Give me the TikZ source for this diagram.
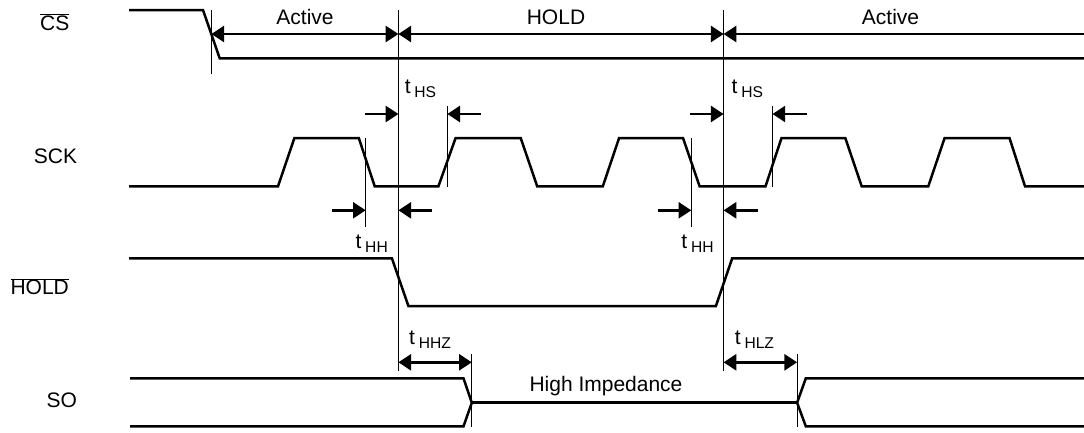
\documentclass[tikz,border=0pt]{standalone}
\usepackage{fontspec}
\setmainfont{Liberation Sans}
\usetikzlibrary{arrows.meta}
\newcommand\ovl[1]{\leavevmode\vbox{\hrule height 0.9pt\kern 0.6pt\hbox{#1}}}
\newcommand\tsub[1]{t\kern 3.8pt\raisebox{-4.4pt}{\fontsize{15.6}{16}\selectfont #1}}
\tikzset{
  signal/.style={line width=2.5pt,black,line join=miter},
  guide/.style={line width=1pt,black},
  dim/.style={line width=2.5pt,black},
  tiphead/.tip={Triangle[length=12.7pt,width=16pt]},
  dimend/.style={dim,{tiphead}-},
  dimboth/.style={dim,{tiphead}-{tiphead}},
  txt/.style={inner sep=0pt,anchor=base,font=\fontsize{21}{21}\selectfont},
  lbl/.style={inner sep=0pt,anchor=base west,font=\fontsize{21}{21}\selectfont},
}
\begin{document}
\begin{tikzpicture}[x=1pt,y=-1pt]
\useasboundingbox (0,0) rectangle (1084,432);
% guides
\coordinate (gCS) at (211.4,10);
\coordinate (gA) at (398.4,10);
\coordinate (gB) at (723.6,10);
\coordinate (gH1) at (447.3,106);
\coordinate (gH2) at (772.5,106);
\coordinate (gS1) at (365.7,138);
\coordinate (gS2) at (691.3,138);
\coordinate (gZ1) at (471.8,354);
\coordinate (gZ2) at (797.1,354);
\coordinate (r1) at (0,34);
\coordinate (r2) at (0,114);
\coordinate (r3) at (0,210.3);
\coordinate (r4) at (0,362.3);
\coordinate (edge) at (1084,34);
\draw[guide] (gCS) -- (gCS |- 0,74);
\draw[guide] (gA) -- (gA |- 0,371);
\draw[guide] (gB) -- (gB |- 0,371);
\draw[guide] (gH1) -- (gH1 |- 0,186.5);
\draw[guide] (gH2) -- (gH2 |- 0,186.5);
\draw[guide] (gS1) -- (gS1 |- 0,226.7);
\draw[guide] (gS2) -- (gS2 |- 0,226.7);
\draw[guide] (gZ1) -- (gZ1 |- 0,426.7);
\draw[guide] (gZ2) -- (gZ2 |- 0,426.7);
% signals
\draw[signal] (129,10) -- (203,10) -- (219.7,58.3) -- (1084,58.3);
\draw[signal] (129,186.3) -- (278,186.3) -- (294.4,138) -- (358.8,138) -- (374.7,186.3)
  -- (438.4,186.3) -- (455.6,138) -- (520.7,138) -- (537.2,186.3)
  -- (602.8,186.3) -- (619.1,138) -- (683,138) -- (699.6,186.3)
  -- (765.5,186.3) -- (781.5,138) -- (845.3,138) -- (861.7,186.3)
  -- (928.3,186.3) -- (944.6,138) -- (1009.5,138) -- (1025,186.3) -- (1084,186.3);
\draw[signal] (129,258.3) -- (391.9,258.3) -- (408.4,306) -- (715.9,306) -- (732.2,258.3) -- (1084,258.3);
\draw[signal] (130.2,378.3) -- (463.5,378.3) -- (471.8,402.7) -- (463.5,426.3) -- (130.2,426.3);
\draw[signal] (471.8,402.7) -- (797.1,402.7);
\draw[signal] (1084,378.3) -- (805.8,378.3) -- (797.1,402.7) -- (805.8,426.3) -- (1084,426.3);
% dimension arrows
\draw[dimboth] (gCS |- r1) -- (gA |- r1);
\draw[dimboth] (gA |- r1) -- (gB |- r1);
\draw[dimend] (gB |- r1) -- (edge);
\draw[dimend] (gA |- r2) -- (365,114);
\draw[dimend] (gH1 |- r2) -- (481,114);
\draw[dimend] (gB |- r2) -- (690.2,114);
\draw[dimend] (gH2 |- r2) -- (807.2,114);
\draw[dimend] (gS1 |- r3) -- (332.3,210.3);
\draw[dimend] (gA |- r3) -- (431.5,210.3);
\draw[dimend] (gS2 |- r3) -- (658.3,210.3);
\draw[dimend] (gB |- r3) -- (757.9,210.3);
\draw[dimboth] (gA |- r4) -- (gZ1 |- r4);
\draw[dimboth] (gB |- r4) -- (gZ2 |- r4);
% labels
\node[lbl] (csl) at (40,30.3) {\ovl{CS}};
\node[lbl] (sckl) at (33.7,163.3) {SCK};
\node[lbl] (holdl) at (10.3,294.7) {\ovl{HOLD}};
\node[lbl] (sol) at (46.5,407.7) {SO};
\node[txt] (act1) at (305,24) {Active};
\node[txt] (hold) at (556,24) {HOLD};
\node[txt] (act2) at (890.5,24) {Active};
\node[txt] (hiz) at (606,391.7) {High Impedance};
\node[lbl] (ths1) at (404.6,93) {\tsub{HS}};
\node[lbl] (ths2) at (731.5,93) {\tsub{HS}};
\node[lbl] (thh1) at (355.4,248.3) {\tsub{HH}};
\node[lbl] (thh2) at (681.2,248.3) {\tsub{HH}};
\node[lbl] (thhz) at (409,344.3) {\tsub{HHZ}};
\node[lbl] (thlz) at (734.7,344.3) {\tsub{HLZ}};
\end{tikzpicture}
\end{document}
